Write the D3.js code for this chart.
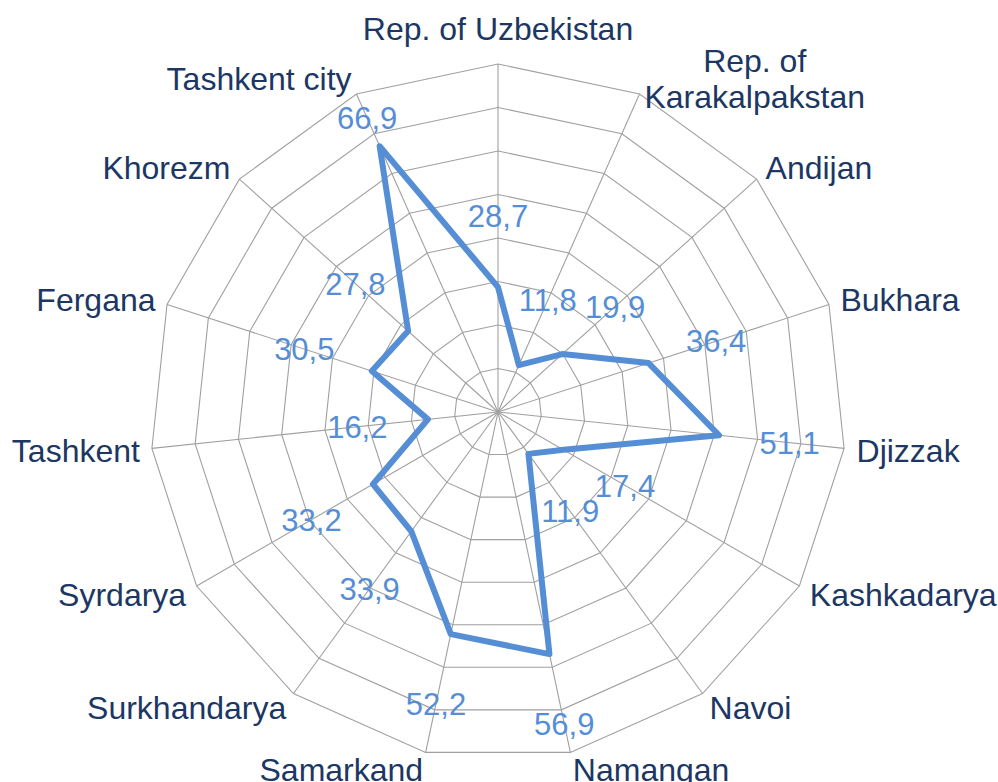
<!DOCTYPE html>
<html>
<head>
<meta charset="utf-8">
<script src="https://cdnjs.cloudflare.com/ajax/libs/d3/7.8.5/d3.min.js"></script>
<style>
  body { margin: 0; background: #fff; }
  svg text { font-family: "Liberation Sans", Arial, sans-serif; }
</style>
</head>
<body>
<div id="chart"></div>
<script>
// regions, clockwise from the top
var regions = ["Rep. of Uzbekistan", "Rep. of\nKarakalpakstan", "Andijan", "Bukhara", "Djizzak",
  "Kashkadarya", "Navoi", "Namangan", "Samarkand", "Surkhandarya", "Syrdarya", "Tashkent",
  "Fergana", "Khorezm", "Tashkent city"];
var values = [28.7, 11.8, 19.9, 36.4, 51.1, 17.4, 11.9, 56.9, 52.2, 33.9, 33.2, 16.2, 30.5, 27.8, 66.9];
var gridSteps = [10, 20, 30, 40, 50, 60, 70, 80];

var width = 998, height = 782;
var cx = 498, cy = 412, R = 348;
var n = regions.length;

var svg = d3.select("#chart").append("svg")
    .attr("width", width)
    .attr("height", height);

var g = svg.append("g").attr("transform", "translate(" + cx + "," + cy + ")");

var rScale = d3.scaleLinear().domain([0, d3.max(gridSteps)]).range([0, R]);
var angle = d3.scaleLinear().domain([0, n]).range([0, 2 * Math.PI]);

function pt(i, r) {
  var a = angle(i);
  return [r * Math.sin(a), -r * Math.cos(a)];
}

// rings
var ring = d3.lineRadial()
    .angle(function(d, i) { return angle(i); })
    .radius(function(d) { return rScale(d); })
    .curve(d3.curveLinearClosed);

g.selectAll(".ring")
  .data(gridSteps)
  .enter().append("path")
    .attr("class", "ring")
    .attr("d", function(s) { return ring(regions.map(function() { return s; })); })
    .attr("fill", "none")
    .attr("stroke", "#a0a0a0")
    .attr("stroke-width", 1.1);

// spokes
g.selectAll(".spoke")
  .data(regions)
  .enter().append("line")
    .attr("class", "spoke")
    .attr("x1", 0).attr("y1", 0)
    .attr("x2", function(d, i) { return pt(i, R)[0]; })
    .attr("y2", function(d, i) { return pt(i, R)[1]; })
    .attr("stroke", "#a0a0a0")
    .attr("stroke-width", 1.1);

// series line
g.append("path")
    .datum(values)
    .attr("d", ring)
    .attr("fill", "none")
    .attr("stroke", "#558ed5")
    .attr("stroke-width", 6)
    .attr("stroke-linejoin", "round");

// value labels, pushed out along the spoke
var labelFs = 31;
g.selectAll(".val")
  .data(values)
  .enter().append("text")
    .attr("class", "val")
    .attr("x", function(d, i) { return pt(i, Math.min(rScale(d) + 71, rScale(74)))[0]; })
    .attr("y", function(d, i) { return pt(i, Math.min(rScale(d) + 71, rScale(74)))[1] + 0.36 * labelFs; })
    .attr("text-anchor", "middle")
    .attr("font-size", labelFs + "px")
    .attr("fill", "#558ed5")
    .text(function(d) { return d.toFixed(1).replace(".", ","); });

// category labels
var catFs = 32, lineH = 36.5;
regions.forEach(function(name, i) {
  var a = angle(i);
  var s = Math.sin(a), c = Math.cos(a);
  var p = pt(i, R + 12);
  var lines = name.split("\n");
  var mid = Math.abs(s) < 0.1;
  var capMid = p[1] - c * (mid ? 24 : 5);
  var firstBase = capMid - (lines.length - 1) * lineH / 2 + 0.36 * catFs;

  var t = g.append("text")
      .attr("font-size", catFs + "px")
      .attr("fill", "#1c3763")
      .attr("text-anchor", "middle");
  lines.forEach(function(l, k) {
    t.append("tspan")
      .attr("x", 0)
      .attr("y", firstBase + k * lineH)
      .text(l);
  });
  var w = t.node().getBBox().width;
  var x = p[0];
  if (!mid) x = s > 0 ? p[0] + w / 2 : p[0] - w / 2;
  t.selectAll("tspan").attr("x", x);
});
</script>
</body>
</html>
